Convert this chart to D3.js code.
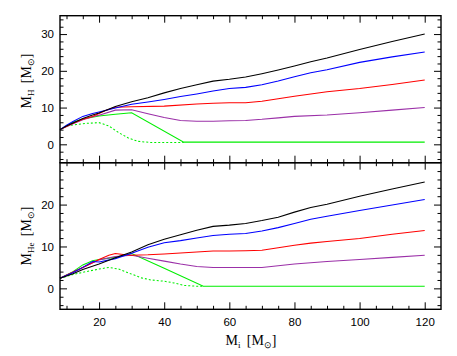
<!DOCTYPE html>
<html>
<head>
<meta charset="utf-8">
<script src="https://cdn.jsdelivr.net/npm/d3@7"></script>
<style>
  body { margin: 0; background: #fff; }
  .tick text { font-family: "Liberation Sans", Helvetica, Arial, sans-serif; font-size: 11.5px; fill: #000; }
  .domain { display: none; }
  .tick line { stroke: #000; stroke-width: 1; }
  .ttl { font-family: "Liberation Serif", "Times New Roman", serif; font-size: 14px; fill: #000; }
</style>
</head>
<body>
<svg id="chart" width="457" height="356"></svg>
<script>
// initial mass grid is per-series
// top panel: hydrogen mass M_H
var hBlack  = [[8,4],[10,5],[12,5.8],[15,7],[18,8],[20,8.5],[25,10.3],[30,11.6],[35,12.7],[40,14],[45,15.2],[50,16.2],[55,17.2],[60,17.7],[65,18.3],[70,19.2],[75,20.2],[80,21.3],[85,22.5],[90,23.5],[100,25.8],[110,28],[120,30]];
var hBlue   = [[8,4],[10,5.2],[12,6.2],[15,7.6],[18,8.4],[20,8.8],[25,9.9],[30,10.9],[35,11.5],[40,12.2],[45,13],[50,13.7],[55,14.5],[60,15.2],[65,15.5],[70,16.2],[75,17.2],[80,18.4],[85,19.5],[90,20.3],[100,22.3],[110,23.8],[120,25.1]];
var hRed    = [[8,4],[12,5.7],[15,6.8],[18,7.6],[20,8.4],[22,9.2],[25,10.1],[30,10.2],[40,10.4],[50,11],[55,11.2],[60,11.3],[65,11.3],[70,11.7],[75,12.4],[80,13.1],[85,13.7],[90,14.3],[100,15.2],[110,16.3],[120,17.5]];
var hPurple = [[8,4],[12,5.6],[15,6.7],[18,7.5],[20,7.9],[25,9.3],[30,9.4],[35,8.3],[40,7.3],[45,6.5],[50,6.3],[55,6.3],[60,6.4],[65,6.5],[70,6.8],[75,7.2],[80,7.6],[90,8],[100,8.6],[110,9.3],[120,10]];
var hGreen  = [[8,4],[10,5],[12,6],[15,6.9],[20,7.7],[25,8.2],[30,8.6],[46,0.6],[120,0.6]];
var hGreenDot = [[8,4],[10,5],[13,5.4],[16,5.7],[20,5.9],[23,5],[26,3.2],[29,1.7],[32,0.8],[36,0.5],[46,0.5]];

// bottom panel: helium core mass M_He
var heBlack  = [[8,2.4],[12,3.5],[15,4.5],[20,5.8],[25,7.3],[30,8.7],[35,10.4],[40,11.7],[45,12.8],[50,13.9],[55,14.8],[60,15.1],[65,15.5],[70,16.2],[75,17],[80,18.2],[85,19.3],[90,20.1],[100,22],[110,23.7],[120,25.4]];
var heBlue   = [[8,2.4],[12,3.8],[15,5],[18,6.4],[20,6.3],[25,7.1],[30,8.4],[35,9.8],[40,10.9],[45,11.4],[50,12],[55,12.6],[60,12.9],[65,13.1],[70,13.7],[75,14.5],[80,15.5],[85,16.5],[90,17.2],[100,18.6],[110,19.9],[120,21.2]];
var heRed    = [[8,2.4],[12,3.9],[15,5],[20,6.9],[23,7.9],[25,8.3],[28,8],[30,7.9],[35,8],[40,8.2],[50,8.7],[55,8.9],[60,8.9],[65,9],[70,9.1],[75,9.7],[80,10.3],[85,10.8],[90,11.2],[100,11.9],[110,12.9],[120,13.8]];
var hePurple = [[8,2.4],[12,3.8],[15,5],[20,6.8],[25,7.6],[30,7.9],[35,7.2],[40,6.5],[45,5.8],[50,5.2],[55,5],[60,5],[70,5],[75,5.4],[80,5.8],[85,6.1],[90,6.4],[100,6.9],[110,7.4],[120,7.9]];
var heGreen  = [[8,2.4],[12,4],[15,5.6],[18,6.6],[20,6.9],[25,7.4],[30,8.3],[40,4.8],[52,0.5],[120,0.5]];
var heGreenDot = [[8,2.4],[12,3.3],[16,4],[20,4.6],[23,5],[26,4.6],[30,3.4],[33,2.5],[36,2],[40,1.7],[43,1.3],[46,0.7],[50,0.5],[52,0.5]];

var xMajor = [20, 40, 60, 80, 100, 120];
var hMajor = [0, 10, 20, 30];
var heMajor = [0, 10, 20];

var svg = d3.select("#chart");
var edgeL = 60, edgeR = 441, edgeT = 15.7, edgeM = 162.7, edgeB = 309.3;

var x = d3.scaleLinear().domain([8, 125]).range([edgeL, edgeR]);
var yH = d3.scaleLinear().domain([-5, 35]).range([edgeM, edgeT]);
var yHe = d3.scaleLinear().domain([-5, 30]).range([edgeB, edgeM]);

var xMinor = d3.range(10, 125, 5).filter(function (d) { return d % 20 != 0; });

function drawPanel(y, yTop, yBot, majors, yMin, yMax, series) {
    var yMinor = d3.range(yMin, yMax + 0.01, 2).filter(function (d) { return d % 10 != 0; });
    // x ticks, top and bottom edges, pointing inward
    svg.append("g").attr("transform", "translate(0," + yTop + ")")
        .call(d3.axisBottom(x).tickValues(xMajor).tickSize(7).tickFormat(""));
    svg.append("g").attr("transform", "translate(0," + yTop + ")")
        .call(d3.axisBottom(x).tickValues(xMinor).tickSize(3.5).tickFormat(""));
    svg.append("g").attr("transform", "translate(0," + yBot + ")")
        .call(d3.axisTop(x).tickValues(xMajor).tickSize(7).tickFormat(""));
    svg.append("g").attr("transform", "translate(0," + yBot + ")")
        .call(d3.axisTop(x).tickValues(xMinor).tickSize(3.5).tickFormat(""));
    // y ticks left (with labels) and right
    svg.append("g").attr("transform", "translate(" + edgeL + ",0)")
        .call(d3.axisLeft(y).tickValues(majors).tickSizeInner(-7).tickSizeOuter(0).tickPadding(6));
    svg.append("g").attr("transform", "translate(" + edgeL + ",0)")
        .call(d3.axisLeft(y).tickValues(yMinor).tickSizeInner(-3.5).tickSizeOuter(0).tickFormat(""));
    svg.append("g").attr("transform", "translate(" + edgeR + ",0)")
        .call(d3.axisRight(y).tickValues(majors).tickSizeInner(-7).tickSizeOuter(0).tickFormat(""));
    svg.append("g").attr("transform", "translate(" + edgeR + ",0)")
        .call(d3.axisRight(y).tickValues(yMinor).tickSizeInner(-3.5).tickSizeOuter(0).tickFormat(""));

    var line = d3.line().x(function (d) { return x(d[0]); }).y(function (d) { return y(d[1]); });
    series.forEach(function (s) {
        svg.append("path").datum(s.data)
            .attr("d", line)
            .attr("fill", "none")
            .attr("stroke", s.color)
            .attr("stroke-width", 1.05)
            .attr("stroke-dasharray", s.dash || null);
    });
    svg.append("rect").attr("x", edgeL).attr("y", yTop)
        .attr("width", edgeR - edgeL).attr("height", yBot - yTop)
        .attr("fill", "none").attr("stroke", "#000").attr("stroke-width", 1.4);
}

var green = "#00ee00", purple = "#9b30a8";

drawPanel(yH, edgeT, edgeM, hMajor, -4, 34, [
    { data: hGreenDot, color: green, dash: "2,2" },
    { data: hGreen, color: green },
    { data: hPurple, color: purple },
    { data: hRed, color: "#ff0000" },
    { data: hBlue, color: "#0000ff" },
    { data: hBlack, color: "#000" }
]);
drawPanel(yHe, edgeM, edgeB, heMajor, -4, 28, [
    { data: heGreenDot, color: green, dash: "2,2" },
    { data: heGreen, color: green },
    { data: hePurple, color: purple },
    { data: heRed, color: "#ff0000" },
    { data: heBlue, color: "#0000ff" },
    { data: heBlack, color: "#000" }
]);

// x tick labels under the bottom panel
svg.append("g").attr("transform", "translate(0," + edgeB + ")")
    .call(d3.axisBottom(x).tickValues(xMajor).tickSize(0).tickPadding(9));

// axis titles
function massLabel(g, sub) {
    var t = g.append("text").attr("class", "ttl").attr("text-anchor", "middle");
    t.append("tspan").text("M");
    t.append("tspan").attr("font-size", "9px").attr("dy", 3).text(sub);
    t.append("tspan").attr("dy", -3).text("\u2009 [M");
    t.append("tspan").attr("font-size", "9px").attr("dy", 3).text("\u2299");
    t.append("tspan").attr("dy", -3).text("]");
    return t;
}
massLabel(svg.append("g").attr("transform", "translate(251,345)"), "i");
massLabel(svg.append("g").attr("transform", "translate(31,81) rotate(-90)"), "H");
massLabel(svg.append("g").attr("transform", "translate(31,236) rotate(-90)"), "He");
</script>
</body>
</html>
